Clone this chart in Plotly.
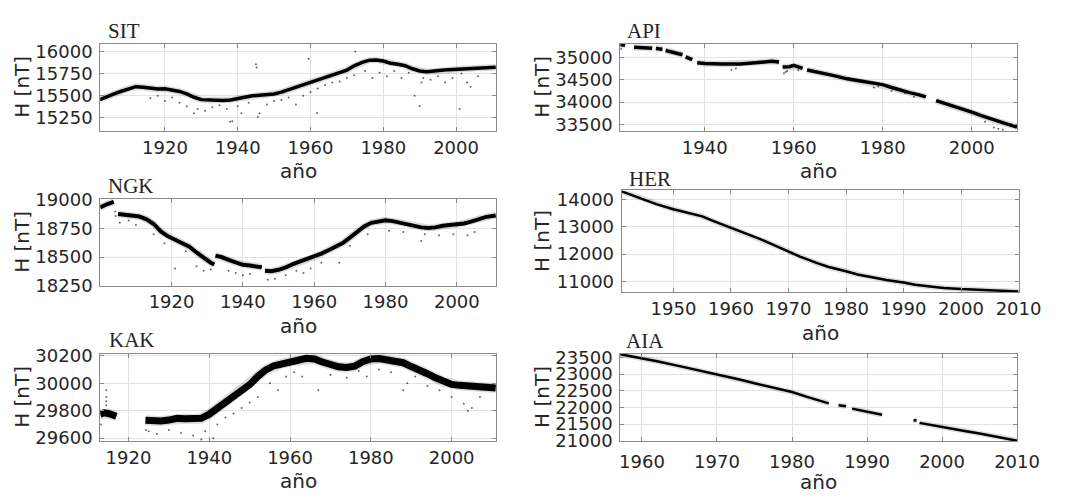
import plotly.graph_objects as go

# ---------------- data ----------------
sit_year = [1902.1, 1904, 1906, 1908, 1910, 1912, 1914, 1916, 1918, 1920, 1922, 1924, 1926, 1928,
            1930, 1932, 1934, 1936, 1938, 1940, 1942, 1944, 1946, 1948, 1950, 1952, 1954, 1956,
            1958, 1960, 1962, 1964, 1966, 1968, 1970, 1972, 1974, 1976, 1978, 1980, 1982, 1984,
            1986, 1988, 1990, 1992, 1994, 1996, 1998, 2000, 2002, 2004, 2006, 2008, 2010.9]
sit_h = [15455, 15490, 15520, 15550, 15580, 15602, 15595, 15582, 15575, 15578, 15565, 15548, 15520, 15482,
         15455, 15450, 15448, 15445, 15450, 15468, 15485, 15498, 15505, 15510, 15520, 15540, 15568, 15595,
         15620, 15650, 15680, 15710, 15740, 15765, 15790, 15838, 15875, 15900, 15905, 15892, 15868, 15855,
         15840, 15805, 15780, 15770, 15775, 15788, 15795, 15800, 15805, 15810, 15815, 15820, 15822]
sit_out_year = [1945, 1945.2, 1959.5, 1961.8, 1937.9, 1938.5, 1990, 2001, 1972.3, 1988.6, 2004,
                1916, 1918, 1920, 1922, 1924, 1926, 1928, 1929, 1931, 1933, 1935, 1937, 1940, 1941,
                1943, 1945.5, 1946, 1948, 1950, 1952, 1954, 1956, 1958, 1960, 1962, 1964, 1966, 1968,
                1970, 1972, 1975, 1977, 1979, 1981, 1983, 1985, 1987, 1990.5, 1991, 1993, 1995, 1997,
                1999, 2001.5, 2003, 2006]
sit_out_h = [15855, 15820, 15917, 15304, 15203, 15210, 15384, 15348, 16000, 15500, 15600,
             15470, 15500, 15440, 15480, 15420, 15380, 15300, 15350, 15330, 15370, 15390, 15350, 15380, 15300,
             15420, 15260, 15300, 15400, 15440, 15450, 15480, 15400, 15500, 15540, 15580, 15620, 15650, 15660,
             15700, 15730, 15780, 15700, 15760, 15720, 15780, 15700, 15760, 15650, 15700, 15680, 15720, 15650,
             15700, 15750, 15650, 15720]

ngk_year = [1900.0, 1901, 1902, 1903, 1903.8, 1904.4, 1905.0, 1907, 1909, 1911, 1913, 1915, 1917, 1919,
            1921, 1923, 1925, 1927, 1929, 1931, 1932.0, 1932.15, 1932.3, 1934, 1936, 1938, 1940, 1942,
            1944, 1945.3, 1945.8, 1946.2, 1948, 1950, 1952, 1954, 1956, 1958, 1960, 1962, 1964, 1966,
            1968, 1970, 1972, 1974, 1976, 1978, 1980, 1982, 1984, 1986, 1988, 1990, 1992, 1994, 1996,
            1998, 2000, 2002, 2004, 2006, 2008, 2010.9]
ngk_h = [18935, 18955, 18965, 18975, 18985, None, 18878, 18872, 18868, 18855, 18830, 18790, 18725, 18682,
         18652, 18622, 18590, 18540, 18490, 18450, 18435, None, 18512, 18500, 18475, 18450, 18432, 18425,
         18420, 18410, None, 18380, 18375, 18388, 18408, 18438, 18460, 18478, 18500, 18530, 18560, 18590,
         18622, 18670, 18720, 18768, 18800, 18815, 18822, 18815, 18800, 18790, 18772, 18760, 18755, 18760, 18775,
         18780, 18785, 18795, 18810, 18830, 18850, 18865]
ngk_out_year = [1904.2, 1904.3, 1905.5, 1908, 1910, 1915, 1918, 1921, 1924, 1927, 1929, 1931, 1936, 1938,
                1940, 1942, 1947, 1949, 1952, 1955, 1957, 1959, 1962, 1967, 1970, 1975, 1981, 1985,
                1990, 1991, 1995, 1999, 2003, 2005]
ngk_out_h = [18900, 18860, 18800, 18820, 18780, 18700, 18620, 18400, 18550, 18420, 18380, 18390, 18380, 18360,
             18340, 18350, 18300, 18310, 18340, 18380, 18360, 18400, 18450, 18450, 18600, 18700, 18730, 18720,
             18640, 18700, 18690, 18700, 18690, 18720]

kak_year = [1913.0, 1914, 1915, 1916, 1917, 1920, 1924.2, 1926, 1928, 1930, 1932, 1934, 1936, 1938, 1940,
            1942, 1944, 1946, 1948, 1950, 1952, 1954, 1956, 1958, 1960, 1962, 1964, 1966, 1968, 1970,
            1972, 1974, 1976, 1978, 1980, 1982, 1984, 1986, 1988, 1990, 1992, 1994, 1996, 1998, 2000,
            2002, 2004, 2006, 2008, 2010.9]
kak_h = [29775, 29785, 29780, 29768, 29760, None, 29730, 29722, 29725, 29732, 29745, 29742, 29738, 29745, 29775,
         29820, 29860, 29900, 29940, 29990, 30050, 30098, 30128, 30145, 30158, 30168, 30182, 30178, 30155, 30135,
         30120, 30115, 30125, 30158, 30178, 30180, 30170, 30165, 30150, 30122, 30100, 30070, 30040, 30010, 29992,
         29985, 29980, 29975, 29970, 29965]
kak_out_year = [1914.5, 1914.5, 1914.5, 1914.5, 1913.2, 1924.3, 1925, 1927, 1930, 1933, 1936, 1938, 1939,
                1941, 1942, 1944, 1946, 1948, 1950, 1952, 1955, 1957, 1959, 1961, 1963, 1967, 1970, 1974,
                1977, 1979, 1982, 1985, 1988, 1989, 1991, 1994, 1997, 2000, 2003, 2004, 2005, 2007]
kak_out_h = [29950, 29900, 29870, 29840, 29700, 29660, 29650, 29630, 29660, 29640, 29620, 29590, 29650,
             29600, 29700, 29750, 29780, 29820, 29860, 29900, 30000, 29950, 30050, 30080, 30050, 29950, 30060, 30040,
             30090, 30050, 30100, 30080, 29950, 30000, 30050, 29980, 29950, 29900, 29850, 29800, 29820, 29900]

api_year = [1921.0, 1921.5, 1922.1, 1923.0, 1924.1, 1926, 1928.2, 1928.6, 1929.0, 1930.5, 1930.8, 1931.2,
            1933, 1935, 1935.4, 1935.7, 1937.2, 1937.8, 1938.3, 1940, 1944, 1948, 1950.7, 1952, 1955,
            1956.7, 1957.1, 1957.5, 1959, 1960, 1961, 1962, 1962.5, 1963, 1965, 1968, 1970.2, 1972, 1975,
            1978, 1980, 1982, 1984, 1986, 1988, 1989.7, 1991, 1992, 1994, 1996, 1998, 2000.2, 2002, 2004,
            2006, 2008, 2010.2]
api_h = [35300, 35290, 35280, None, 35240, 35225, 35215, None, 35210, 35195, None, 35165,
         35120, 35070, None, 35020, 34960, None, 34890, 34870, 34860, 34860, 34880, 34895, 34920,
         34905, None, 34790, 34800, 34830, 34800, 34760, None, 34725, 34690, 34620, 34570, 34525, 34475,
         34430, 34395, 34330, 34265, 34215, 34170, 34120, None, 34035, 33975, 33905, 33845, 33770, 33700, 33630,
         33565, 33505, 33440]
api_out_year = [1921.2, 1946, 1947, 1957.8, 1958.2, 1958.5, 1961, 1978, 1979, 1982, 1985, 1987, 2003,
                2005, 2006, 2007]
api_out_h = [35200, 34730, 34760, 34650, 34680, 34700, 34720, 34330, 34360, 34250, 34200, 34120, 33560,
             33430, 33400, 33380]

her_year = [1941, 1943, 1945, 1947, 1950, 1952, 1955, 1957, 1960, 1962, 1965, 1967, 1970, 1972, 1975,
            1977, 1980, 1982, 1985, 1987, 1990, 1992, 1995, 1997, 2000, 2003, 2005, 2008, 2010]
her_h = [14290, 14141, 13965, 13824, 13635, 13530, 13376, 13200, 12960, 12812, 12553, 12376, 12106, 11906,
         11671, 11530, 11376, 11259, 11141, 11059, 10965, 10882, 10812, 10765, 10725, 10700, 10685, 10660, 10640]

aia_year = [1957.1, 1960, 1962, 1965, 1968, 1970, 1973, 1975, 1978, 1980, 1982, 1984.9, 1985.5, 1986.2,
            1987.2, 1987.6, 1988, 1990, 1992, 1994, 1996.2, 1996.6, 1996.8, 1997, 2000, 2003, 2005, 2008, 2010]
aia_h = [23590, 23480, 23383, 23237, 23091, 22975, 22838, 22722, 22556, 22459, 22313, 22119, None, 22060,
         22031, None, 21963, 21875, 21778, None, 21613, 21603, None, 21535, 21425, 21292, 21214, 21097, 21000]

# ---------------- layout helpers ----------------
W, H = 1065, 500


def fx(x):
    return x / W


def fy(y):
    return 1 - y / H


TICK_FONT = dict(family="DejaVu Sans", size=18, color="#262626")
LABEL_FONT = dict(family="DejaVu Sans", size=20, color="#262626")
TITLE_FONT = dict(family="Liberation Serif", size=21, color="#262626")

panels = [
    # name, x, y, out_x, out_y, xpx, ypx, xrange, yrange, xticks, yticks, lw, title_pos, xlabel_y, xstand
    ("SIT", sit_year, sit_h, sit_out_year, sit_out_h, (101.5, 506.5), (35, 126), [1902.2, 2011.0],
     [15100, 16090], [1920, 1940, 1960, 1980, 2000], [15250, 15500, 15750, 16000], 3.5, (107, 21.5), 168, 0),
    ("NGK", ngk_year, ngk_h, ngk_out_year, ngk_out_h, (101.5, 506.5), (197, 287), [1900.0, 2011.0],
     [18250, 19008], [1920, 1940, 1960, 1980, 2000], [18250, 18500, 18750, 19000], 4, (107, 183), 329, 0),
    ("KAK", kak_year, kak_h, kak_out_year, kak_out_h, (101.5, 506.5), (358, 449), [1913.0, 2011.0],
     [29579, 30216], [1920, 1940, 1960, 1980, 2000], [29600, 29800, 30000, 30200], 7, (108, 344), 491, 0),
    ("API", api_year, api_h, api_out_year, api_out_h, (633.5, 1039.5), (35, 126), [1921.0, 2010.2],
     [33350, 35320], [1940, 1960, 1980, 2000], [33500, 34000, 34500, 35000], 3.5, (638, 22), 168, 0),
    ("HER", her_year, her_h, [], [], (635, 1041), (188, 294), [1941.0, 2010.0],
     [10610, 14320], [1950, 1960, 1970, 1980, 1990, 2000, 2010], [11000, 12000, 13000, 14000], 2.5,
     (640, 176), 336, 0),
    ("AIA", aia_year, aia_h, [], [], (633.5, 1039.5), (358, 449), [1957.1, 2010.0],
     [20990, 23610], [1960, 1970, 1980, 1990, 2000, 2010], [21000, 21500, 22000, 22500, 23000, 23500], 2.5,
     (637, 345), 492, 4),
]

fig = go.Figure()
annotations = []
layout = {}

for i, (name, xs, ys, ox, oy, xpx, ypx, xr, yr, xt, yt, lw, tpos, xl_y, xstand) in enumerate(panels):
    idx = "" if i == 0 else str(i + 1)
    xa, ya = "x" + idx, "y" + idx
    # faint halo standing for the scatter of daily values around the main band
    fig.add_trace(go.Scatter(x=xs, y=ys, mode="lines", xaxis=xa, yaxis=ya,
                             line=dict(color="rgba(0,0,0,0.14)", width=lw + 3), hoverinfo="skip",
                             showlegend=False))
    fig.add_trace(go.Scatter(x=xs, y=ys, mode="lines", xaxis=xa, yaxis=ya,
                             line=dict(color="#000000", width=lw), name=name, showlegend=False))
    if ox:
        fig.add_trace(go.Scatter(x=ox, y=oy, mode="markers", xaxis=xa, yaxis=ya,
                                 marker=dict(color="rgba(0,0,0,0.6)", size=2), hoverinfo="skip",
                                 showlegend=False))
    axis_common = dict(showline=True, linecolor="#8a8a8a", linewidth=1, mirror="ticks",
                       ticks="inside", ticklen=4, tickcolor="#8a8a8a",
                       showgrid=True, gridcolor="#e3e3e3", gridwidth=1, zeroline=False,
                       tickfont=TICK_FONT)
    layout["xaxis" + idx] = dict(domain=[fx(xpx[0]), fx(xpx[1])], range=xr, tickvals=xt,
                                 ticktext=[str(v) for v in xt],
                                 anchor=ya, ticklabelstandoff=xstand, **axis_common)
    layout["yaxis" + idx] = dict(domain=[fy(ypx[1]), fy(ypx[0])], range=yr, tickvals=yt,
                                 ticktext=[str(v) for v in yt],
                                 anchor=xa, ticklabelstandoff=3, **axis_common)
    # panel title
    annotations.append(dict(text=name, xref="paper", yref="paper", x=fx(tpos[0]), y=fy(tpos[1]),
                            xanchor="left", yanchor="middle", showarrow=False, font=TITLE_FONT))
    # x label
    annotations.append(dict(text="año", xref="paper", yref="paper", x=fx((xpx[0] + xpx[1]) / 2),
                            y=fy(xl_y), xanchor="center", yanchor="middle", showarrow=False,
                            font=LABEL_FONT))
    # y label
    ylab_x = 22 if xpx[0] < 300 else 554
    annotations.append(dict(text="H [nT]", xref="paper", yref="paper", x=fx(ylab_x),
                            y=fy((ypx[0] + ypx[1]) / 2), xanchor="center", yanchor="middle",
                            textangle=-90, showarrow=False, font=LABEL_FONT))

fig.update_layout(width=W, height=H, margin=dict(l=0, r=0, t=0, b=0),
                  paper_bgcolor="white", plot_bgcolor="white", showlegend=False,
                  annotations=annotations, **layout)

fig.write_html("out.html")
